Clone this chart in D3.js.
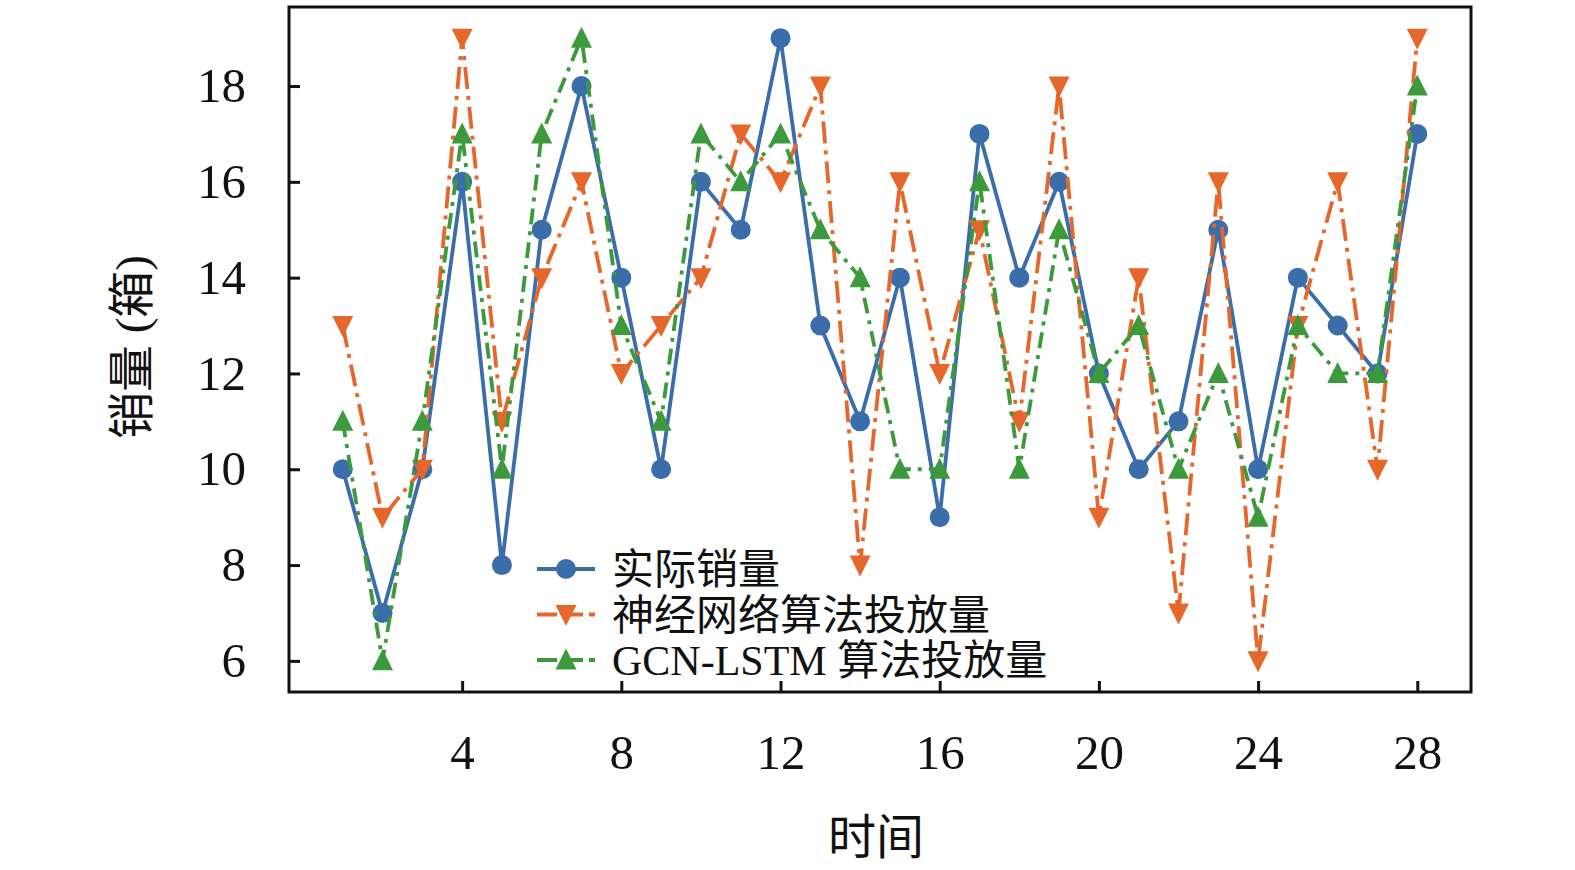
<!DOCTYPE html>
<html>
<head>
<meta charset="utf-8">
<script src="https://cdn.jsdelivr.net/npm/d3@7"></script>
<style>
  body { margin: 0; background: #fff; }
  text { font-family: "Liberation Serif", "Noto Sans CJK SC", serif; fill: #111; }
</style>
</head>
<body>
<div class="chart"></div>
<script>
var w = 1575, h = 870;

// data
var days = d3.range(1, 29);
var actual = [10, 7, 10, 16, 8, 15, 18, 14, 10, 16, 15, 19, 13, 11, 14, 9, 17, 14, 16, 12, 10, 11, 15, 10, 14, 13, 12, 17];
var neural = [13, 9, 10, 19, 11, 14, 16, 12, 13, 14, 17, 16, 18, 8, 16, 12, 15, 11, 18, 9, 14, 7, 16, 6, 13, 16, 10, 19];
var gcnLstm = [11, 6, 11, 17, 10, 17, 19, 13, 11, 17, 16, 17, 15, 14, 10, 10, 16, 10, 15, 12, 13, 10, 12, 9, 13, 12, 12, 18];
var seriesNames = ['实际销量', '神经网络算法投放量', 'GCN-LSTM 算法投放量'];
var xTicks = [4, 8, 12, 16, 20, 24, 28];
var yTicks = [6, 8, 10, 12, 14, 16, 18];

var pLeft = 289, pRight = 1471, pTop = 7, pBottom = 692;

var x = d3.scaleLinear().domain([-0.35, 29.35]).range([pLeft, pRight]);
var y = d3.scaleLinear().domain([5.35, 19.65]).range([pBottom, pTop]);

var svg = d3.select('.chart').append('svg')
	.attr('width', w)
	.attr('height', h);

var series = [
	{ name: seriesNames[0], vals: actual, color: '#3b6daa', dash: null, mark: 'circle' },
	{ name: seriesNames[1], vals: neural, color: '#e6672b', dash: '22,7,4,7', mark: 'down' },
	{ name: seriesNames[2], vals: gcnLstm, color: '#3c9a3c', dash: '16,7,4,7', mark: 'up' }
];

function marker(g, type, color) {
	if (type == 'circle') {
		g.append('circle').attr('r', 10).attr('fill', color);
	} else {
		var s = type == 'up' ? -1 : 1;
		g.append('path')
			.attr('d', 'M' + [-10.5, -9.5 * s] + 'L' + [10.5, -9.5 * s] + 'L' + [0, 11.5 * s] + 'Z')
			.attr('fill', color);
	}
}

var line = d3.line()
	.x(function(d, i) { return x(days[i]); })
	.y(function(d) { return y(d); });

var plot = svg.append('g');
series.forEach(function(s) {
	plot.append('path')
		.attr('d', line(s.vals))
		.attr('fill', 'none')
		.attr('stroke', s.color)
		.attr('stroke-width', 3.8)
		.attr('stroke-dasharray', s.dash)
		.attr('stroke-linejoin', 'round');
	plot.selectAll(null)
		.data(s.vals)
		.enter()
		.append('g')
		.attr('transform', function(d, i) { return 'translate(' + [x(days[i]), y(d)] + ')'; })
		.each(function() { marker(d3.select(this), s.mark, s.color); });
});

// axes with inward ticks
var xAxis = svg.append('g')
	.attr('transform', 'translate(0,' + pBottom + ')')
	.call(d3.axisBottom(x).tickValues(xTicks).tickSize(-11).tickPadding(42).tickSizeOuter(0));
var yAxis = svg.append('g')
	.attr('transform', 'translate(' + pLeft + ',0)')
	.call(d3.axisLeft(y).tickValues(yTicks).tickSize(-11).tickPadding(43).tickSizeOuter(0));

[xAxis, yAxis].forEach(function(a) {
	a.select('.domain').remove();
	a.selectAll('line').attr('stroke', '#111').attr('stroke-width', 3);
	a.selectAll('text').attr('font-size', 49).attr('font-family', '"Liberation Serif", serif').attr('fill', '#111');
});
xAxis.selectAll('text').attr('dy', '0.71em');

svg.append('rect')
	.attr('x', pLeft).attr('y', pTop)
	.attr('width', pRight - pLeft).attr('height', pBottom - pTop)
	.attr('fill', 'none').attr('stroke', '#111').attr('stroke-width', 3);

// axis titles
svg.append('text')
	.attr('x', 876).attr('y', 854)
	.attr('text-anchor', 'middle')
	.attr('font-size', 48)
	.text('时间');
svg.append('text')
	.attr('transform', 'translate(148,' + 347 + ') rotate(-90)')
	.attr('text-anchor', 'middle')
	.attr('font-size', 47)
	.text('销量 (箱)');

// legend
var legend = svg.append('g').attr('transform', 'translate(537,569)');
series.forEach(function(s, i) {
	var g = legend.append('g').attr('transform', 'translate(0,' + i * 45.5 + ')');
	g.append('line')
		.attr('x1', 0).attr('x2', 58)
		.attr('stroke', s.color)
		.attr('stroke-width', 3.8)
		.attr('stroke-dasharray', s.dash ? '20,6' : null);
	var m = g.append('g').attr('transform', 'translate(29,0)');
	marker(m, s.mark, s.color);
	g.append('text')
		.attr('x', 75).attr('y', 15)
		.attr('font-size', 42)
		.text(s.name);
});
</script>
</body>
</html>
